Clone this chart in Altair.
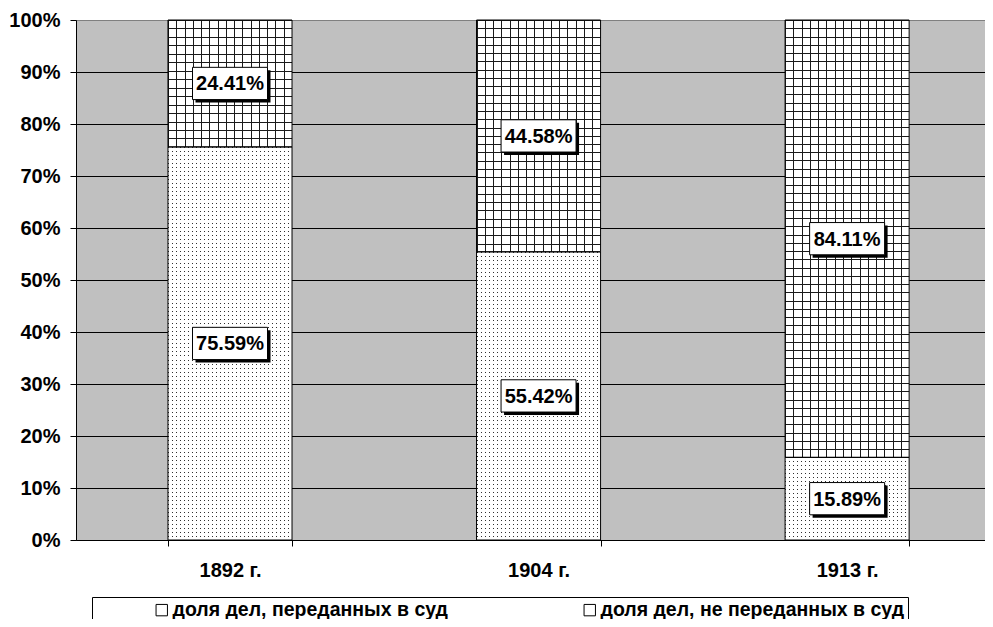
import altair as alt
import pandas as pd

# ---------------- data ----------------
years = ["1892 г.", "1904 г.", "1913 г."]
share_court = [75.59, 55.42, 15.89]          # доля дел, переданных в суд (%)
share_not_court = [24.41, 44.58, 84.11]      # доля дел, не переданных в суд (%)
series_names = ["доля дел, переданных в суд", "доля дел, не переданных в суд"]
y_ticks = [0, 0.1, 0.2, 0.3, 0.4, 0.5, 0.6, 0.7, 0.8, 0.9, 1.0]

rows = []
for i, yr in enumerate(years):
    rows.append({"year": yr, "series": series_names[0], "order": 0, "value": share_court[i] / 100})
    rows.append({"year": yr, "series": series_names[1], "order": 1, "value": share_not_court[i] / 100})
df = pd.DataFrame(rows)

# ---------------- layout / style ----------------
FONT = "Liberation Sans"
W, H = 909, 520
P_INNER, P_OUTER, ALIGN = 0.598, 0.272, 0.548
STEP = W / (len(years) - P_INNER + 2 * P_OUTER)
BAR_PX = STEP * (1 - P_INNER)
GRID_STEP = 8.27
DOT_STEP = 4.0

x_enc = alt.X(
    "year:N", sort=years,
    scale=alt.Scale(paddingInner=P_INNER, paddingOuter=P_OUTER, align=ALIGN),
    axis=alt.Axis(title=None, labelFont=FONT, labelFontSize=20, labelFontWeight="bold",
                  labelColor="black", tickColor="black", tickSize=6, domainColor="black",
                  labelPadding=14, tickBand="extent", labelAngle=0, grid=False),
)
y_axis = alt.Axis(title=None, values=y_ticks, format=".0%", labelFont=FONT, labelFontSize=20,
                  labelFontWeight="bold", labelColor="black", tickColor="black", tickSize=6,
                  domainColor="black", labelPadding=10, grid=True,
                  gridColor={"condition": {"test": "datum.value >= 1", "value": "#808080"},
                             "value": "black"})
y_scale = alt.Scale(domain=[0, 1], nice=False)
y_enc = alt.Y("y0:Q", scale=y_scale, axis=y_axis)
y2_enc = alt.Y2("y1:Q")


def stripes(length_px, step_px, line_color, gap_color, vertical_lines):
    n = max(1, round(length_px / step_px))
    period = length_px / n
    frac = 1.0 / period
    stops = []
    for k in range(n):
        a = k / n
        b = a + frac / n
        c = (k + 1) / n
        stops += [alt.GradientStop(offset=round(a, 6), color=line_color),
                  alt.GradientStop(offset=round(b, 6), color=line_color),
                  alt.GradientStop(offset=round(b, 6), color=gap_color),
                  alt.GradientStop(offset=round(c, 6), color=gap_color)]
    if vertical_lines:
        return alt.LinearGradient(gradient="linear", stops=stops, x1=0, y1=0, x2=1, y2=0)
    return alt.LinearGradient(gradient="linear", stops=stops, x1=0, y1=0, x2=0, y2=1)


base = alt.Chart(df).transform_stack(
    stack="value", groupby=["year"], as_=["y0", "y1"],
    sort=[alt.SortField("order", order="ascending")],
)

LEG_PAD = 3
layers = []
# white bars + legend
layers.append(
    base.mark_bar().encode(
        x=x_enc, y=y_enc, y2=y2_enc,
        fill=alt.Fill("series:N", scale=alt.Scale(domain=series_names, range=["white", "white"]),
                      legend=alt.Legend(
                          orient="none", legendX=16, legendY=577, direction="horizontal",
                          columns=2, title=None, labelFont=FONT, labelFontSize=19.5,
                          labelFontWeight="bold", labelColor="black", symbolType="square",
                          symbolSize=130, symbolStrokeColor="black", symbolStrokeWidth=1,
                          strokeColor="black", fillColor="white", padding=LEG_PAD,
                          symbolOffset=60 - LEG_PAD, labelOffset=1, columnPadding=75,
                          labelLimit=600)),
    )
)

TRANSPARENT = "rgba(255,255,255,0)"

# dotted pattern (bottom segments): vertical dark lines masked by horizontal white stripes
layers.append(
    base.transform_filter(alt.datum.order == 0).mark_bar(
        fill=stripes(BAR_PX, DOT_STEP, "#303030", TRANSPARENT, True)
    ).encode(x=x_enc, y=y_enc, y2=y2_enc)
)
for i, yr in enumerate(years):
    h_px = share_court[i] / 100 * H
    layers.append(
        base.transform_filter((alt.datum.order == 0) & (alt.datum.year == yr)).mark_bar(
            fill=stripes(h_px, DOT_STEP, TRANSPARENT, "white", False)
        ).encode(x=x_enc, y=y_enc, y2=y2_enc)
    )

# grid pattern (top segments)
layers.append(
    base.transform_filter(alt.datum.order == 1).mark_bar(
        fill=stripes(BAR_PX, GRID_STEP, "#1a1a1a", TRANSPARENT, True)
    ).encode(x=x_enc, y=y_enc, y2=y2_enc)
)
for i, yr in enumerate(years):
    h_px = share_not_court[i] / 100 * H
    layers.append(
        base.transform_filter((alt.datum.order == 1) & (alt.datum.year == yr)).mark_bar(
            fill=stripes(h_px, GRID_STEP, "#1a1a1a", TRANSPARENT, False)
        ).encode(x=x_enc, y=y_enc, y2=y2_enc)
    )

# outlines
layers.append(
    base.mark_bar(fill="white", fillOpacity=0, stroke="black", strokeWidth=1)
    .encode(x=x_enc, y=y_enc, y2=y2_enc)
)

# value labels in boxes with shadow
BOX = "M-1,-0.43 L1,-0.43 L1,0.43 L-1,0.43 Z"
lab = base.transform_calculate(mid="(datum.y0 + datum.y1) / 2",
                               label="format(datum.value, '.2%')")
y_mid = alt.Y("mid:Q", scale=y_scale, axis=y_axis)
layers.append(
    lab.mark_point(shape=BOX, size=75 * 75, filled=True, fill="black", opacity=1,
                   strokeWidth=0, xOffset=3, yOffset=3).encode(x=x_enc, y=y_mid)
)
layers.append(
    lab.mark_point(shape=BOX, size=75 * 75, filled=True, fill="white", opacity=1,
                   stroke="black", strokeWidth=1).encode(x=x_enc, y=y_mid)
)
layers.append(
    lab.mark_text(font=FONT, fontSize=20, fontWeight="bold", color="black",
                  align="center", baseline="middle", dy=1).encode(x=x_enc, y=y_mid, text="label:N")
)

chart = alt.layer(*layers).properties(
    width=W, height=H,
    padding={"left": 68, "top": 12, "right": 0, "bottom": 79},
    autosize=alt.AutoSizeParams(type="none"),
).configure_view(fill="#C0C0C0", stroke="#808080", strokeWidth=1)

chart.save("out.html", embed_options={"renderer": "svg", "actions": False})
